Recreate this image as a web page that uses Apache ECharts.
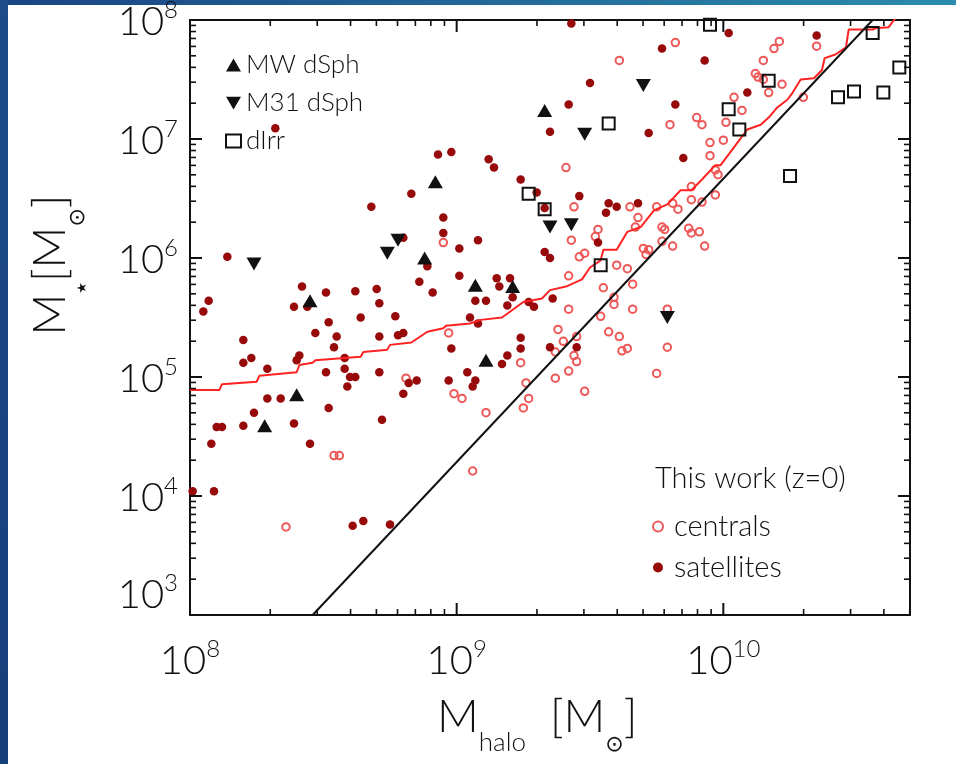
<!DOCTYPE html>
<html>
<head>
<meta charset="utf-8">
<script src="https://cdn.jsdelivr.net/npm/echarts@6/dist/echarts.min.js"></script>
<style>
  html, body { margin: 0; padding: 0; background: #ffffff; }
  #chart { width: 956px; height: 764px; }
</style>
</head>
<body>
<div id="chart"></div>
<script>
// Stellar mass vs halo mass of dwarf galaxies; all masses stored as log10(M / Msun).

// simulated centrals: [log10 M_halo, log10 M_star]
const centrals = [
  [8.95,6.13],[8.97,5.37],[8.81,4.99],[8.99,4.86],[9.02,4.82],[8.54,4.34],[8.56,4.34],[8.36,3.74],[9.06,4.21],[9.41,6.76],
  [9.44,6.43],[9.43,6.15],[9.42,5.85],[9.42,5.57],[9.38,5.40],[9.82,7.81],[9.61,7.66],[10.21,7.82],[10.19,7.76],[10.15,7.66],
  [10.35,7.78],[10.12,7.55],[10.13,7.52],[10.15,7.50],[10.22,7.46],[10.17,7.39],[10.04,7.35],[10.07,7.24],[10.01,7.14],[9.90,7.18],
  [9.92,7.12],[9.80,7.12],[9.95,6.97],[10.00,6.99],[9.95,6.86],[9.97,6.74],[9.98,6.70],[10.30,7.35],[9.88,6.60],[9.88,6.49],
  [9.92,6.47],[9.97,6.53],[9.81,6.46],[9.83,6.41],[9.75,6.43],[9.65,6.43],[9.68,6.34],[9.67,6.26],[9.77,6.26],[9.78,6.24],
  [9.87,6.25],[9.88,6.21],[9.91,6.22],[9.53,6.24],[9.52,6.18],[9.77,6.14],[9.81,6.10],[9.93,6.10],[9.70,6.08],[9.72,6.07],
  [9.71,6.03],[9.48,6.04],[9.46,6.01],[9.60,5.94],[9.64,5.91],[9.55,5.75],[9.59,5.67],[9.59,5.61],[9.66,5.78],[9.66,5.57],
  [9.54,5.51],[9.57,5.38],[9.61,5.34],[9.79,5.57],[9.40,5.30],[9.45,5.34],[9.37,5.21],[9.44,5.18],[9.45,5.13],[9.42,5.05],
  [9.62,5.22],[9.64,5.24],[9.79,5.25],[9.75,5.03],[9.48,4.88],[9.37,4.99],[9.24,5.12],[9.26,4.95],[9.27,4.82],[9.25,4.74],
  [9.11,4.70]
];

// simulated satellites: [log10 M_halo, log10 M_star]
const satellites = [
  [8.14,6.01],[8.07,5.64],[8.05,5.55],[8.42,5.76],[8.51,5.71],[8.62,5.72],[8.70,5.74],[8.71,5.62],[8.39,5.59],[8.44,5.59],
  [8.52,5.46],[8.64,5.50],[8.20,5.31],[8.47,5.37],[8.55,5.34],[8.54,5.25],[8.71,5.34],[8.23,5.16],[8.20,5.12],[8.41,5.18],
  [8.40,5.14],[8.58,5.16],[8.29,5.07],[8.58,5.07],[8.51,5.04],[8.60,5.00],[8.62,5.00],[8.71,5.04],[8.59,4.92],[8.29,4.82],
  [8.34,4.82],[8.52,4.74],[8.24,4.70],[8.10,4.58],[8.12,4.58],[8.20,4.59],[8.39,4.61],[8.72,4.64],[8.77,5.51],[8.78,5.35],
  [8.80,5.37],[8.82,4.95],[8.85,4.97],[8.80,4.86],[8.97,4.97],[8.98,5.24],[9.07,5.64],[9.05,5.50],[9.08,5.45],[9.04,5.04],
  [9.07,4.97],[9.06,4.92],[8.08,4.44],[8.45,4.44],[8.01,4.04],[8.09,4.04],[8.61,3.75],[8.65,3.79],[8.75,3.76],[8.32,7.09],
  [8.93,6.87],[8.98,6.89],[8.83,6.54],[8.68,6.43],[8.95,6.34],[8.95,6.21],[9.01,6.08],[9.08,6.15],[8.80,6.17],[8.89,5.93],
  [9.01,5.85],[8.86,5.80],[8.91,5.71],[9.35,7.06],[9.12,6.83],[9.14,6.76],[9.24,6.66],[9.30,6.55],[9.46,6.52],[9.33,6.42],
  [9.33,6.05],[9.35,6.00],[9.15,5.83],[9.20,5.83],[9.16,5.76],[9.11,5.64],[9.21,5.67],[9.19,5.60],[9.27,5.63],[9.29,5.59],
  [9.36,5.66],[9.43,7.97],[10.02,7.89],[9.77,7.76],[10.35,7.87],[9.93,7.66],[9.50,7.47],[10.09,7.39],[9.42,7.29],[9.82,7.29],
  [9.72,7.05],[9.85,6.84],[9.57,6.46],[9.60,6.43],[9.56,6.38],[9.68,6.46],[9.53,6.13],[9.17,5.11],[9.19,5.18],[9.24,5.33],
  [9.24,5.24],[9.35,5.25],[9.45,5.25]
];

// observed Local Group dwarfs
const mwDSph = [[8.92,6.64],[8.88,6.00],[8.45,5.64],[9.07,5.77],[9.33,7.24],[9.21,5.76],[9.11,5.14],[8.40,4.85],[8.28,4.59]];
const m31DSph = [[8.24,5.95],[8.74,6.04],[8.78,6.15],[9.35,6.26],[9.43,6.28],[9.70,7.45],[9.48,7.04],[9.79,5.50]];
const dIrr = [
  [9.95,7.96],[9.57,7.13],[10.02,7.25],[10.17,7.49],[10.06,7.08],[10.56,7.89],[10.66,7.60],
  [10.43,7.35],[10.49,7.40],[10.60,7.39],[10.25,6.69],[9.27,6.54],[9.33,6.41],[9.54,5.94]
];

// running median of the simulated sample (stepped)
const medianRelation = [
  [8.00,4.89],[8.11,4.89],[8.12,4.94],[8.25,4.96],[8.26,5.01],[8.40,5.04],[8.41,5.10],[8.46,5.12],[8.47,5.14],[8.64,5.17],
  [8.65,5.21],[8.74,5.23],[8.75,5.27],[8.83,5.29],[8.89,5.38],[8.95,5.41],[8.96,5.43],[9.05,5.45],[9.09,5.48],[9.17,5.50],
  [9.25,5.63],[9.32,5.66],[9.35,5.73],[9.41,5.76],[9.47,5.82],[9.50,5.92],[9.54,5.98],[9.55,6.07],[9.60,6.07],[9.64,6.22],
  [9.69,6.26],[9.74,6.40],[9.79,6.45],[9.84,6.57],[9.88,6.57],[9.92,6.66],[9.97,6.78],[9.99,6.78],[10.06,6.99],[10.09,7.08],
  [10.14,7.12],[10.17,7.18],[10.20,7.26],[10.24,7.33],[10.26,7.39],[10.29,7.50],[10.34,7.51],[10.37,7.58],[10.38,7.68],[10.42,7.71],
  [10.46,7.77],[10.47,7.92],[10.56,7.92],[10.57,7.93],[10.62,7.94],[10.64,8.00],[10.66,8.05]
];

// abundance-matching relation, end points
const abundanceMatching = [[8.46,3.0],[10.56,8.0]];

// axis ranges (log10 M) and the decades that carry labels
const xRange = [8, 10.7];
const yRange = [3, 8];
const xDecades = [8, 9, 10];
const yDecades = [3, 4, 5, 6, 7];

const FONT = 'Lato, "Liberation Sans", "DejaVu Sans", sans-serif';
const INK = '#111111';
const X_MIN = Math.pow(10, xRange[0]), X_MAX = Math.pow(10, xRange[1]);
const Y_MIN = Math.pow(10, yRange[0]), Y_MAX = Math.pow(10, yRange[1]);

// series values are plotted on logarithmic axes in linear units
const toMass = pts => pts.map(p => [Math.pow(10, p[0]), Math.pow(10, p[1])]);

// frame tick marks: [x, y, kind (0 = x tick, 1 = y tick), length]
function frameTicks() {
  const out = [];
  xDecades.forEach(e => {
    for (let k = 1; k <= 9; k++) {
      const v = k * Math.pow(10, e);
      if (v > X_MIN && v < X_MAX) out.push([v, Y_MIN, 0, k === 1 ? 12 : 6]);
    }
  });
  yDecades.forEach(e => {
    for (let k = 1; k <= 9; k++) {
      const v = k * Math.pow(10, e);
      if (v > Y_MIN && v < Y_MAX) out.push([X_MIN, v, 1, k === 1 ? 12 : 6]);
    }
  });
  return out;
}

const powRich = {
  b: { fontSize: 40, fontFamily: FONT, fontWeight: 300, color: INK, lineHeight: 44, verticalAlign: 'bottom' },
  s: { fontSize: 24, fontFamily: FONT, fontWeight: 300, color: INK, lineHeight: 24, verticalAlign: 'top' }
};
function powFormatter(v) {
  const e = Math.log10(v);
  if (Math.abs(e - Math.round(e)) > 1e-6) return '';
  return '{b|10}{s|' + Math.round(e) + '}';
}

// boxed frame: labelled bottom/left axes, plain top/right axes
function frameAxis(dim, position, showLabels) {
  const r = dim === 'x' ? xRange : yRange;
  const label = showLabels ? {
    show: true, formatter: powFormatter, rich: powRich, margin: dim === 'x' ? 22 : 12, showMinLabel: true, showMaxLabel: true
  } : { show: false };
  if (showLabels && dim === 'y') label.verticalAlignMinLabel = 'bottom';
  return {
    type: 'log', logBase: 10, position,
    min: Math.pow(10, r[0]), max: Math.pow(10, r[1]),
    axisLine: { show: true, onZero: false, lineStyle: { color: INK, width: 2 } },
    axisTick: { show: false },
    minorTick: { show: false },
    axisLabel: label,
    splitLine: { show: false },
    minorSplitLine: { show: false }
  };
}

const titleRich = {
  m: { fontSize: 46, fontFamily: FONT, fontWeight: 300, fill: INK, lineHeight: 62, verticalAlign: 'top' },
  sub: { fontSize: 26, fontFamily: FONT, fontWeight: 300, fill: INK, lineHeight: 26, verticalAlign: 'bottom' },
  sun: { fontSize: 22, fontFamily: '"DejaVu Sans", sans-serif', fill: INK, lineHeight: 22, verticalAlign: 'bottom' },
  star: { fontSize: 13, fontFamily: '"DejaVu Sans", sans-serif', fill: INK, lineHeight: 13, verticalAlign: 'bottom' },
  gap: { width: 24, fontSize: 10 }
};

const chart = echarts.init(document.getElementById('chart'), null, { renderer: 'canvas' });
chart.setOption({
  animation: false,
  backgroundColor: '#ffffff',
  grid: { left: 190, top: 20, width: 720, height: 595, containLabel: false, outerBoundsMode: 'none', show: false },
  xAxis: [frameAxis('x', 'bottom', true), frameAxis('x', 'top', false)],
  yAxis: [frameAxis('y', 'left', true), frameAxis('y', 'right', false)],
  title: {
    text: 'This work (z=0)', left: 650, top: 459,
    textStyle: { fontSize: 29, fontWeight: 300, fontFamily: FONT, color: INK }
  },
  legend: [
    {
      data: ['MW dSph', 'M31 dSph', 'dIrr'], orient: 'vertical', left: 220, top: 47,
      itemWidth: 15, itemHeight: 13, itemGap: 12, selectedMode: false,
      textStyle: { fontSize: 26, fontWeight: 300, fontFamily: FONT, color: INK }
    },
    {
      data: ['centrals', 'satellites'], orient: 'vertical', left: 647, top: 507,
      itemWidth: 10, itemHeight: 10, itemGap: 12, selectedMode: false,
      textStyle: { fontSize: 29, fontWeight: 300, fontFamily: FONT, color: INK, padding: [0, 0, 0, 6] }
    }
  ],
  graphic: [
    { type: 'rect', silent: true, shape: { x: 0, y: 0, width: 956, height: 5 },
      style: { fill: new echarts.graphic.LinearGradient(0, 0, 1, 0, [{ offset: 0, color: '#1a4483' }, { offset: 1, color: '#2b8cad' }]) } },
    { type: 'rect', silent: true, shape: { x: 0, y: 0, width: 8, height: 764 },
      style: { fill: new echarts.graphic.LinearGradient(0, 0, 0, 1, [{ offset: 0, color: '#1c4b8a' }, { offset: 1, color: '#173f7a' }]) } },
    { type: 'text', silent: true, x: 437, y: 694,
      style: { text: '{m|M}{sub|halo}{gap| }{m|[M}{sun|⊙}{m|]}', align: 'left', verticalAlign: 'top', rich: titleRich } },
    { type: 'text', silent: true, x: 58, y: 265, rotation: Math.PI / 2,
      style: { text: '{m|M}{star|★}{m|[M}{sun|⊙}{m|]}', align: 'center', verticalAlign: 'middle', rich: titleRich } }
  ],
  series: [
    {
      name: 'centrals', type: 'scatter', data: toMass(centrals), symbol: 'circle', symbolSize: 7.5,
      itemStyle: { color: 'rgba(255,255,255,0)', borderColor: '#ee5858', borderWidth: 2, opacity: 1 }, z: 3
    },
    {
      name: 'satellites', type: 'scatter', data: toMass(satellites), symbol: 'circle', symbolSize: 8.5,
      itemStyle: { color: '#980a0a', borderWidth: 0, opacity: 1 }, z: 4
    },
    {
      name: 'median', type: 'line', data: toMass(medianRelation), showSymbol: false, symbol: 'none', silent: true,
      lineStyle: { color: '#ff2222', width: 2 }, z: 5
    },
    {
      name: 'abundance matching', type: 'line', data: toMass(abundanceMatching), showSymbol: false, symbol: 'none', silent: true,
      lineStyle: { color: INK, width: 2 }, z: 5
    },
    {
      name: 'MW dSph', type: 'scatter', data: toMass(mwDSph), symbol: 'triangle', symbolSize: [15, 13],
      itemStyle: { color: INK, opacity: 1 }, z: 6
    },
    {
      name: 'M31 dSph', type: 'scatter', data: toMass(m31DSph), symbol: 'path://M0,0L20,0L10,17Z', symbolSize: [15, 13],
      itemStyle: { color: INK, opacity: 1 }, z: 6
    },
    {
      name: 'dIrr', type: 'scatter', data: toMass(dIrr), symbol: 'rect', symbolSize: 12,
      itemStyle: { color: 'rgba(255,255,255,0)', borderColor: INK, borderWidth: 2, opacity: 1 }, z: 6
    },
    {
      // inward tick marks on all four sides of the frame, placed through the log scales
      name: 'frame ticks', type: 'custom', data: frameTicks(), encode: { x: 0, y: 1 },
      silent: true, clip: false, z: 10,
      renderItem(params, api) {
        const kind = api.value(2), len = api.value(3);
        const style = { stroke: INK, lineWidth: len > 8 ? 2 : 1.6 };
        if (kind === 0) {
          const b = api.coord([api.value(0), Y_MIN]);
          const t = api.coord([api.value(0), Y_MAX]);
          return { type: 'group', children: [
            { type: 'line', shape: { x1: b[0], y1: b[1], x2: b[0], y2: b[1] - len }, style },
            { type: 'line', shape: { x1: t[0], y1: t[1], x2: t[0], y2: t[1] + len }, style }
          ] };
        }
        const l = api.coord([X_MIN, api.value(1)]);
        const r = api.coord([X_MAX, api.value(1)]);
        return { type: 'group', children: [
          { type: 'line', shape: { x1: l[0], y1: l[1], x2: l[0] + len, y2: l[1] }, style },
          { type: 'line', shape: { x1: r[0], y1: r[1], x2: r[0] - len, y2: r[1] }, style }
        ] };
      }
    }
  ]
});
</script>
</body>
</html>
